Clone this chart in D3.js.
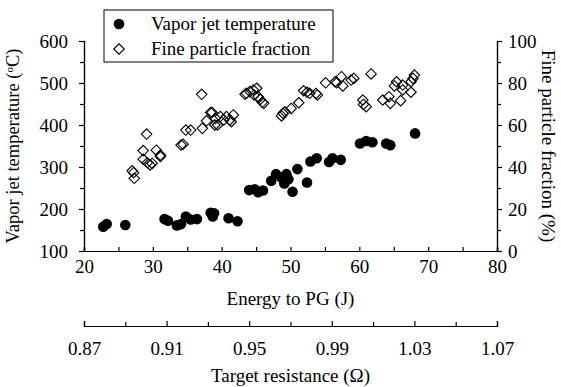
<!DOCTYPE html>
<html>
<head>
<meta charset="utf-8">
<script src="https://cdn.jsdelivr.net/npm/d3@7"></script>
<style>
  body { margin: 0; background: #fff; }
  svg text { font-family: "Liberation Serif", "Times New Roman", serif; fill: #000; }
</style>
</head>
<body>
<script>
// Energy to PG (J), vapor jet temperature (°C)
const tempPoints = [
  [22.8, 158], [23.3, 164], [26.0, 162], [31.7, 176], [32.2, 172], [33.5, 161],
  [34.1, 164], [34.8, 182], [35.5, 175], [36.4, 176], [38.4, 191], [38.7, 182],
  [38.9, 190], [41.0, 178], [42.3, 171], [44.0, 245], [44.8, 247], [45.3, 240],
  [46.0, 244], [47.2, 267], [47.9, 283], [48.7, 275], [49.4, 283], [49.1, 261],
  [49.7, 271], [50.3, 241], [51.0, 295], [52.4, 263], [52.9, 313], [53.8, 321],
  [55.6, 312], [56.1, 321], [57.3, 317], [60.1, 356], [61.0, 362], [61.9, 359],
  [63.9, 356], [64.5, 352], [68.1, 380]
];
// Energy to PG (J), fine particle fraction (%)
const finePoints = [
  [27.0, 38.2], [27.2, 37.3], [27.3, 34.6], [28.6, 43.7], [28.6, 47.8], [29.1, 55.7],
  [29.2, 42.0], [29.6, 41.0], [29.9, 41.7], [30.5, 48.0], [31.1, 45.0], [31.1, 45.7],
  [34.1, 50.5], [34.4, 50.8], [34.8, 57.6], [35.5, 57.6], [37.1, 74.6], [37.2, 58.4],
  [37.8, 62.0], [38.4, 65.9], [38.6, 66.0], [39.0, 60.0], [39.1, 63.2], [39.4, 60.0],
  [39.8, 64.0], [40.3, 62.4], [40.7, 64.0], [41.2, 62.4], [41.4, 61.6], [41.7, 64.8],
  [43.4, 74.6], [43.6, 75.1], [44.1, 75.9], [44.6, 76.7], [44.7, 74.3], [45.1, 77.5],
  [45.3, 73.5], [45.6, 72.2], [45.9, 70.8], [46.1, 70.3], [48.7, 64.3], [48.9, 65.6],
  [49.2, 66.3], [50.1, 67.9], [51.2, 70.6], [51.9, 76.3], [52.4, 75.6], [52.8, 75.1],
  [53.7, 75.0], [53.9, 74.3], [55.1, 80.1], [56.5, 80.6], [56.7, 80.1], [57.4, 83.0],
  [57.6, 78.6], [58.8, 81.4], [59.2, 82.2], [61.7, 84.3], [60.5, 71.9], [60.6, 69.8],
  [61.0, 68.7], [63.4, 71.9], [64.3, 73.5], [64.5, 70.3], [65.1, 78.6], [65.4, 80.6],
  [66.0, 71.6], [66.3, 79.0], [66.3, 76.7], [67.5, 75.6], [67.5, 80.6], [67.8, 82.2],
  [68.0, 83.8]
];
const energyTicks = [20, 30, 40, 50, 60, 70, 80];
const tempTicks = [100, 200, 300, 400, 500, 600];
const fracTicks = [0, 20, 40, 60, 80, 100];
const resistTicks = [0.87, 0.91, 0.95, 0.99, 1.03, 1.07];
const legendItems = ["Vapor jet temperature", "Fine particle fraction"];

let width = 561, height = 387;
let mLeft = 84, mRight = 497, mTop = 41, mBottom = 251, axis2Y = 326;
let fontSize = 19;

let svg = d3.select("body").append("svg")
  .attr("width", width)
  .attr("height", height);

let x = d3.scaleLinear().domain([20, 80]).range([mLeft, mRight]);
let yT = d3.scaleLinear().domain([100, 600]).range([mBottom, mTop]);
let yF = d3.scaleLinear().domain([0, 100]).range([mBottom, mTop]);
let xR = d3.scaleLinear().domain([0.87, 1.07]).range([mLeft, mRight]);

let styleAxis = (g) => {
  g.selectAll("path.domain").attr("stroke", "#000").attr("stroke-width", 1.2);
  g.selectAll(".tick line").attr("stroke", "#000").attr("stroke-width", 1.2);
  g.selectAll(".tick text").style("font-size", fontSize + "px");
};

// minor ticks first, then major with labels
svg.append("g")
  .attr("transform", `translate(0,${mBottom})`)
  .call(d3.axisTop(x).tickValues(d3.range(25, 80, 10)).tickSize(4).tickFormat(""))
  .call(styleAxis);
svg.append("g")
  .attr("transform", `translate(0,${mBottom})`)
  .call(d3.axisTop(x).tickValues(energyTicks).tickSize(4).tickPadding(-26))
  .call(styleAxis);

svg.append("g")
  .attr("transform", `translate(${mLeft},0)`)
  .call(d3.axisLeft(yT).tickValues(d3.range(150, 600, 100)).tickSize(4).tickFormat(""))
  .call(styleAxis);
svg.append("g")
  .attr("transform", `translate(${mLeft},0)`)
  .call(d3.axisLeft(yT).tickValues(tempTicks).tickSize(5).tickPadding(11))
  .call(styleAxis);

svg.append("g")
  .attr("transform", `translate(${mRight},0)`)
  .call(d3.axisRight(yF).tickValues(d3.range(10, 100, 20)).tickSize(4).tickFormat(""))
  .call(styleAxis);
svg.append("g")
  .attr("transform", `translate(${mRight},0)`)
  .call(d3.axisRight(yF).tickValues(fracTicks).tickSize(5).tickPadding(6))
  .call(styleAxis);

// second x axis: target resistance
svg.append("g")
  .attr("transform", `translate(0,${axis2Y})`)
  .call(d3.axisTop(xR).tickValues(d3.range(0.89, 1.07, 0.04)).tickSize(4).tickFormat(""))
  .call(styleAxis);
svg.append("g")
  .attr("transform", `translate(0,${axis2Y})`)
  .call(d3.axisTop(xR).tickValues(resistTicks).tickSize(5).tickPadding(-34).tickFormat(d3.format(".2f")))
  .call(styleAxis);

svg.selectAll("g .tick text").attr("fill", "#000");

// axis titles
svg.append("text")
  .attr("x", (mLeft + mRight) / 2).attr("y", 305)
  .attr("text-anchor", "middle")
  .style("font-size", fontSize + "px")
  .text("Energy to PG (J)");

svg.append("text")
  .attr("x", (mLeft + mRight) / 2).attr("y", 382)
  .attr("text-anchor", "middle")
  .style("font-size", fontSize + "px")
  .text("Target resistance (\u03A9)");

let yTitle = svg.append("text")
  .attr("transform", `translate(19,${(mTop + mBottom) / 2}) rotate(-90)`)
  .attr("text-anchor", "middle")
  .style("font-size", "18.5px");
yTitle.append("tspan").text("Vapor jet temperature (");
yTitle.append("tspan").attr("dy", -6).style("font-size", "11px").text("o");
yTitle.append("tspan").attr("dy", 6).text("C)");

svg.append("text")
  .attr("transform", `translate(542,${(mTop + mBottom) / 2}) rotate(90)`)
  .attr("text-anchor", "middle")
  .style("font-size", fontSize + "px")
  .text("Fine particle fraction (%)");

// data
svg.append("g").selectAll("circle")
  .data(tempPoints)
  .join("circle")
  .attr("cx", (d) => x(d[0]))
  .attr("cy", (d) => yT(d[1]))
  .attr("r", 5.3)
  .attr("fill", "#000");

let diamond = d3.symbol().type(d3.symbolDiamond2).size(70);
svg.append("g").selectAll("path")
  .data(finePoints)
  .join("path")
  .attr("transform", (d) => `translate(${x(d[0])},${yF(d[1])})`)
  .attr("d", diamond)
  .attr("fill", "none")
  .attr("stroke", "#000")
  .attr("stroke-width", 1.1);

// legend
let lg = svg.append("g");
lg.append("rect")
  .attr("x", 104).attr("y", 10)
  .attr("width", 229).attr("height", 52)
  .attr("fill", "#fff")
  .attr("stroke", "#000")
  .attr("stroke-width", 1);
lg.append("circle").attr("cx", 119).attr("cy", 24).attr("r", 5.3).attr("fill", "#000");
lg.append("path")
  .attr("transform", "translate(119,49)")
  .attr("d", diamond)
  .attr("fill", "none")
  .attr("stroke", "#000")
  .attr("stroke-width", 1.1);
lg.selectAll("text.lab")
  .data(legendItems)
  .join("text")
  .attr("class", "lab")
  .attr("x", 151)
  .attr("y", (d, i) => 30 + i * 25)
  .style("font-size", fontSize + "px")
  .text((d) => d);
</script>
</body>
</html>
